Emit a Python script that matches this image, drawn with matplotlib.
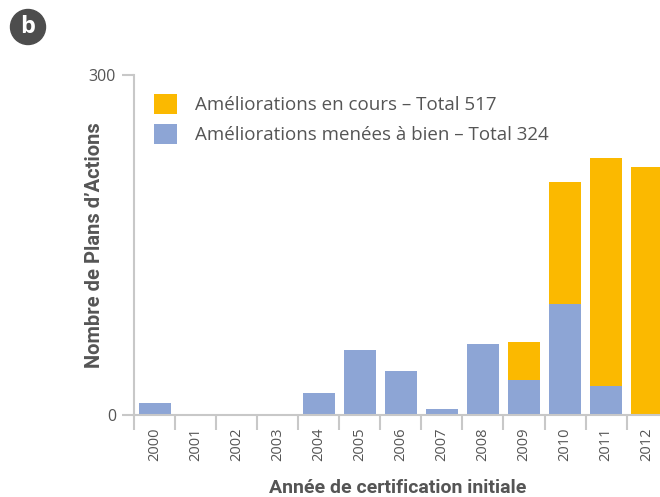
import matplotlib
matplotlib.use("Agg")
import matplotlib.pyplot as plt
from matplotlib.patches import Circle

years = ["2000", "2001", "2002", "2003", "2004", "2005", "2006",
         "2007", "2008", "2009", "2010", "2011", "2012"]
completed = [11, 0, 0, 0, 19, 57, 39, 5, 63, 31, 98, 26, 0]
in_progress = [0, 0, 0, 0, 0, 0, 0, 0, 0, 33, 108, 201, 219]
label_progress = "Améliorations en cours – Total 517"
label_completed = "Améliorations menées à bien – Total 324"
yticks = [0, 300]

ORANGE = "#FBB900"
BLUE = "#8DA5D5"
TXT = "#555555"
GRID = "#C8C8C8"

W, H = 660, 497
fig = plt.figure(figsize=(W / 100, H / 100), dpi=100)
plt.rcParams['font.family'] = ['Open Sans', 'DejaVu Sans']

# axes in pixel coords
left, right, top, bottom = 134, 667.7, 75, 415
ax = fig.add_axes([left / W, 1 - bottom / H, (right - left) / W, (bottom - top) / H])

x = list(range(len(years)))
b1 = ax.bar(x, completed, width=0.78, color=BLUE, zorder=2)
b2 = ax.bar(x, in_progress, width=0.78, bottom=completed, color=ORANGE, zorder=2)

ax.set_xlim(-0.5, len(years) - 0.5)
ax.set_ylim(0, 300)
for s in ["top", "right"]:
    ax.spines[s].set_visible(False)
for s in ["left", "bottom"]:
    ax.spines[s].set_color(GRID)
    ax.spines[s].set_linewidth(1.5)

ax.set_yticks(yticks)
ax.set_yticklabels([str(v) for v in yticks], fontsize=11.5, color=TXT)
ax.tick_params(axis="y", length=9, width=1.5, color=GRID, pad=4)

ax.set_xticks([i - 0.5 for i in x], minor=False)
ax.set_xticklabels([])
ax.tick_params(axis="x", which="major", length=11, width=1.5, color=GRID)
ax.set_xticks(x, minor=True)
ax.set_xticklabels(years, minor=True, rotation=90, fontsize=10.5, color=TXT)
ax.tick_params(axis="x", which="minor", length=0, pad=9)

cond = ['Liberation Sans Narrow', 'Roboto', 'DejaVu Sans']
fig.text(95 / W, 1 - 245 / H, "Nombre de Plans d’Actions", rotation=90,
         ha="center", va="center", fontsize=14.5, fontweight="bold", color=TXT,
         family=cond)
fig.text(398 / W, 1 - 488 / H, "Année de certification initiale",
         ha="center", va="center", fontsize=14, fontweight="bold", color=TXT,
         family=cond)

leg = fig.legend([b2, b1], [label_progress, label_completed],
                 loc="upper left", bbox_to_anchor=(154 / W, 1 - 94 / H),
                 frameon=False, fontsize=13.5, handlelength=1.23, handleheight=1.23,
                 handletextpad=0.95, labelspacing=0.53, borderaxespad=0, borderpad=0)
for t in leg.get_texts():
    t.set_color(TXT)

# badge
bx = fig.add_axes([0, 0, 1, 1], zorder=-1)
bx.set_xlim(0, W)
bx.set_ylim(H, 0)
bx.axis("off")
bx.add_patch(Circle((28, 27), 17.5, color="#4D4D4D"))
bx.text(28, 27, "b", ha="center", va="center", fontsize=17, fontweight="bold",
        color="white")

fig.savefig("out.png", dpi=100)
